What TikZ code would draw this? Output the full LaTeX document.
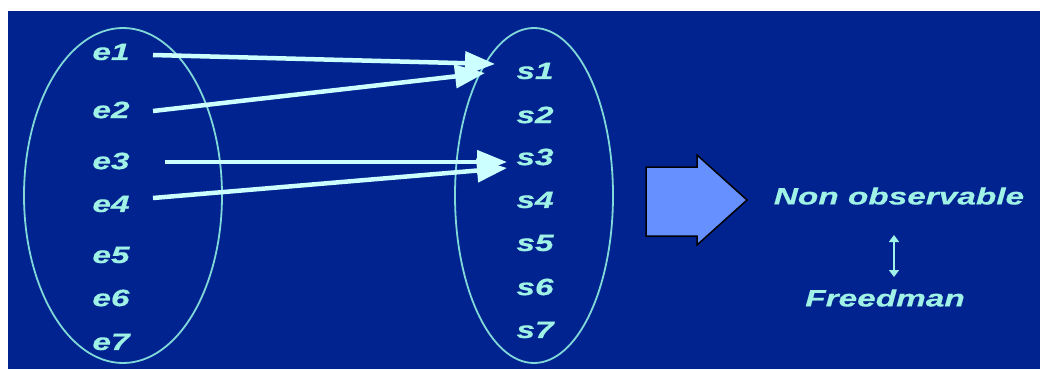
\documentclass[tikz,border=0pt]{standalone}
\usepackage{fontspec}
\usetikzlibrary{arrows.meta}
\newfontfamily\labfont[FakeStretch=1.42,FakeBold=0.6]{Liberation Sans}
\definecolor{bgblue}{HTML}{00238F}
\definecolor{labcol}{HTML}{A0F2E6}
\definecolor{arrcol}{HTML}{CCFFFF}
\definecolor{ellcol}{HTML}{80D8D8}
\definecolor{blockcol}{HTML}{6690FF}
\begin{document}
\begin{tikzpicture}[x=1pt,y=-1pt,
  lab/.style={text=labcol,font=\labfont\bfseries\itshape\fontsize{23.5}{23.5}\selectfont,inner sep=0pt},
  big/.style={text=labcol,font=\labfont\bfseries\itshape\fontsize{23.5}{23.5}\selectfont,inner sep=0pt},
  setell/.style={draw=ellcol,line width=1.8pt},
  maparrow/.style={draw=arrcol,line width=4.5pt,-{Triangle[length=30pt,width=23pt]}},
  blockarrow/.style={fill=blockcol,draw=black,line width=1.5pt,line join=miter}]
\useasboundingbox (0,0) rectangle (1040,369);
\fill[white] (0,0) rectangle (1040,369);
\fill[bgblue] (8,11) rectangle (1040,369);
% sets
\draw[setell] (123,195.5) ellipse [x radius=99, y radius=167.5];
\draw[setell] (534,195.5) ellipse [x radius=79, y radius=167.5];
% labels
\node[lab] (e1) at (111,52) {e1};
\node[lab] (e2) at (111,110) {e2};
\node[lab] (e3) at (111,161) {e3};
\node[lab] (e4) at (111,204) {e4};
\node[lab] (e5) at (111,255) {e5};
\node[lab] (e6) at (111,298) {e6};
\node[lab] (e7) at (111,342) {e7};
\node[lab] (s1) at (535,71) {s1};
\node[lab] (s2) at (535,115) {s2};
\node[lab] (s3) at (535,157) {s3};
\node[lab] (s4) at (535,200) {s4};
\node[lab] (s5) at (535,243) {s5};
\node[lab] (s6) at (535,287) {s6};
\node[lab] (s7) at (535,330) {s7};
% arrow end points
\coordinate (a1s) at (153,55);  \coordinate (a1e) at (495,64);
\coordinate (a2s) at (153,111); \coordinate (a2e) at (485,73);
\coordinate (a3s) at (165,162); \coordinate (a3e) at (507,162);
\coordinate (a4s) at (153,198); \coordinate (a4e) at (507,168);
\draw[maparrow] (a1s) -- (a1e);
\draw[maparrow] (a2s) -- (a2e);
\draw[maparrow] (a3s) -- (a3e);
\draw[maparrow] (a4s) -- (a4e);
% block arrow
\draw[blockarrow] (646,167) -- (697,167) -- (697,155) -- (747,200) -- (697,245) -- (697,236) -- (646,236) -- cycle;
% right texts
\node[big] (no) at (899,196) {Non observable};
\node[big] (fr) at (885,298) {Freedman};
\coordinate (dt) at (894,235);
\coordinate (db) at (894,277);
\draw[labcol,line width=1.5pt,{Triangle[length=7pt,width=10pt]}-{Triangle[length=7pt,width=10pt]}] (dt) -- (db);
\end{tikzpicture}
\end{document}
